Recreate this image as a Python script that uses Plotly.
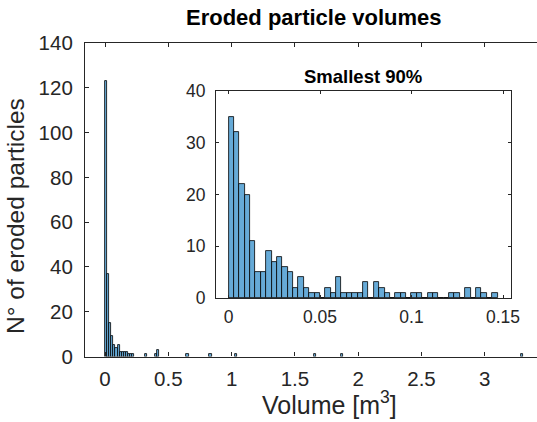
import plotly.graph_objects as go

# ---------------- data ----------------
# Main histogram: bin width and (left-edge, count) of non-empty bins
main_bin_width = 0.0165
main_bin_left = [0.0, 0.0165, 0.033, 0.0495, 0.066, 0.0825, 0.099, 0.1155, 0.132,
                 0.1485, 0.165, 0.1815, 0.198, 0.2145, 0.3135, 0.396, 0.4125,
                 0.6435, 0.825, 1.023, 1.65, 1.8645, 3.2835]
main_counts = [123, 37, 15, 9, 5, 4, 5, 2, 2,
               2, 2, 1, 1, 1, 1, 1, 3,
               1, 1, 1, 1, 1, 1]

# Inset histogram (smallest 90 %): 50 equal bins from 0
inset_bin_width = 0.00294
inset_counts = [35, 32, 22, 20, 11, 5, 5, 9, 7, 8,
                6, 5, 2, 4, 2, 1, 1, 0, 2, 1,
                4, 1, 1, 1, 1, 3, 0, 3, 2, 1,
                0, 1, 1, 0, 1, 1, 0, 1, 1, 0,
                0, 1, 1, 0, 2, 0, 2, 1, 0, 1]

main_xticks = [0, 0.5, 1, 1.5, 2, 2.5, 3]
main_xticklabels = ["0", "0.5", "1", "1.5", "2", "2.5", "3"]
main_yticks = [0, 20, 40, 60, 80, 100, 120, 140]
inset_xticks = [0, 0.05, 0.1, 0.15]
inset_xticklabels = ["0", "0.05", "0.1", "0.15"]
inset_yticks = [0, 10, 20, 30, 40]

title_main = "Eroded particle volumes"
title_inset = "Smallest 90%"
xlabel = "Volume [m<sup>3</sup>]"
ylabel = "N° of eroded particles"

# ---------------- styling ----------------
W, H = 537, 422
FACE = "rgb(102,170,215)"
EDGE = "rgb(0,0,0)"
AX = "rgb(38,38,38)"
FONT = "Liberation Sans, Arial, Helvetica, sans-serif"


def px_x(p):
    return p / W


def px_y(p):
    return 1 - p / H


fig = go.Figure()

fig.add_trace(go.Bar(
    x=[l + main_bin_width / 2 for l in main_bin_left], y=main_counts,
    width=[main_bin_width] * len(main_counts),
    marker=dict(color=FACE, line=dict(color=EDGE, width=0.8)),
    xaxis="x", yaxis="y", showlegend=False, hoverinfo="skip"))

inset_centers = [(i + 0.5) * inset_bin_width for i in range(len(inset_counts))]
fig.add_trace(go.Bar(
    x=inset_centers, y=inset_counts,
    width=[inset_bin_width] * len(inset_counts),
    marker=dict(color=FACE, line=dict(color=EDGE, width=0.8)),
    xaxis="x2", yaxis="y2", showlegend=False, hoverinfo="skip"))

# main axes: left 85, right 537(+), top 43, bottom 356.5
main_l, main_r, main_t, main_b = 85, 537, 43, 356.5
x0_px, unit_px = 105, 126.6
main_xrange = [(main_l - x0_px) / unit_px, (main_r - x0_px) / unit_px]

# inset axes
in_l, in_r, in_t, in_b = 216, 511, 91, 298
ix0_px, iunit_px = 228.5, 1830.0
inset_xrange = [(in_l - ix0_px) / iunit_px, (in_r - ix0_px) / iunit_px]

tickfont_main = dict(family=FONT, size=20.5, color=AX)
tickfont_inset = dict(family=FONT, size=17.5, color=AX)

common = dict(showgrid=False, zeroline=False, automargin=False,
              linecolor=AX, linewidth=1.2, showline=True,
              ticks="inside", tickcolor=AX, tickwidth=1)

fig.update_layout(
    width=W, height=H,
    margin=dict(l=0, r=0, t=0, b=0, pad=0),
    paper_bgcolor="white", plot_bgcolor="rgba(0,0,0,0)",
    bargap=0, barmode="overlay",
    xaxis=dict(domain=[px_x(main_l), px_x(main_r)], range=main_xrange,
               tickvals=main_xticks, ticktext=main_xticklabels,
               mirror="ticks", ticklen=4, tickfont=tickfont_main,
               ticklabelstandoff=4, anchor="y", **common),
    yaxis=dict(domain=[px_y(main_b), px_y(main_t)], range=[0, 140],
               tickvals=main_yticks, mirror=False, ticklen=4,
               tickfont=tickfont_main, ticklabelstandoff=7,
               anchor="x", **common),
    xaxis2=dict(domain=[px_x(in_l), px_x(in_r)], range=inset_xrange,
                tickvals=inset_xticks, ticktext=inset_xticklabels,
                mirror="ticks", ticklen=3, tickfont=tickfont_inset,
                ticklabelstandoff=3, anchor="y2", **common),
    yaxis2=dict(domain=[px_y(in_b), px_y(in_t)], range=[0, 40],
                tickvals=inset_yticks, mirror="ticks", ticklen=3,
                tickfont=tickfont_inset, ticklabelstandoff=6,
                anchor="x2", **common),
)

# white background for the inset box
fig.add_shape(type="rect", xref="paper", yref="paper",
              x0=px_x(in_l), x1=px_x(in_r), y0=px_y(in_b), y1=px_y(in_t),
              fillcolor="white", line=dict(width=0), layer="below")

fig.add_annotation(text="<b>" + title_main + "</b>", xref="paper", yref="paper",
                   x=px_x(314), y=px_y(17), xanchor="center", yanchor="middle",
                   showarrow=False, font=dict(family=FONT, size=22, color="black"))
fig.add_annotation(text="<b>" + title_inset + "</b>", xref="paper", yref="paper",
                   x=px_x(363), y=px_y(77), xanchor="center", yanchor="middle",
                   showarrow=False, font=dict(family=FONT, size=18.5, color="black"))
fig.add_annotation(text=xlabel, xref="paper", yref="paper",
                   x=px_x(329), y=px_y(403), xanchor="center", yanchor="middle",
                   showarrow=False, font=dict(family=FONT, size=25, color=AX))
fig.add_annotation(text=ylabel, xref="paper", yref="paper",
                   x=px_x(16), y=px_y(216), xanchor="center", yanchor="middle",
                   textangle=-90, showarrow=False,
                   font=dict(family=FONT, size=24.5, color=AX))

fig.write_html("out.html", config={"displayModeBar": False},
               post_script="document.body.style.margin='0';")
